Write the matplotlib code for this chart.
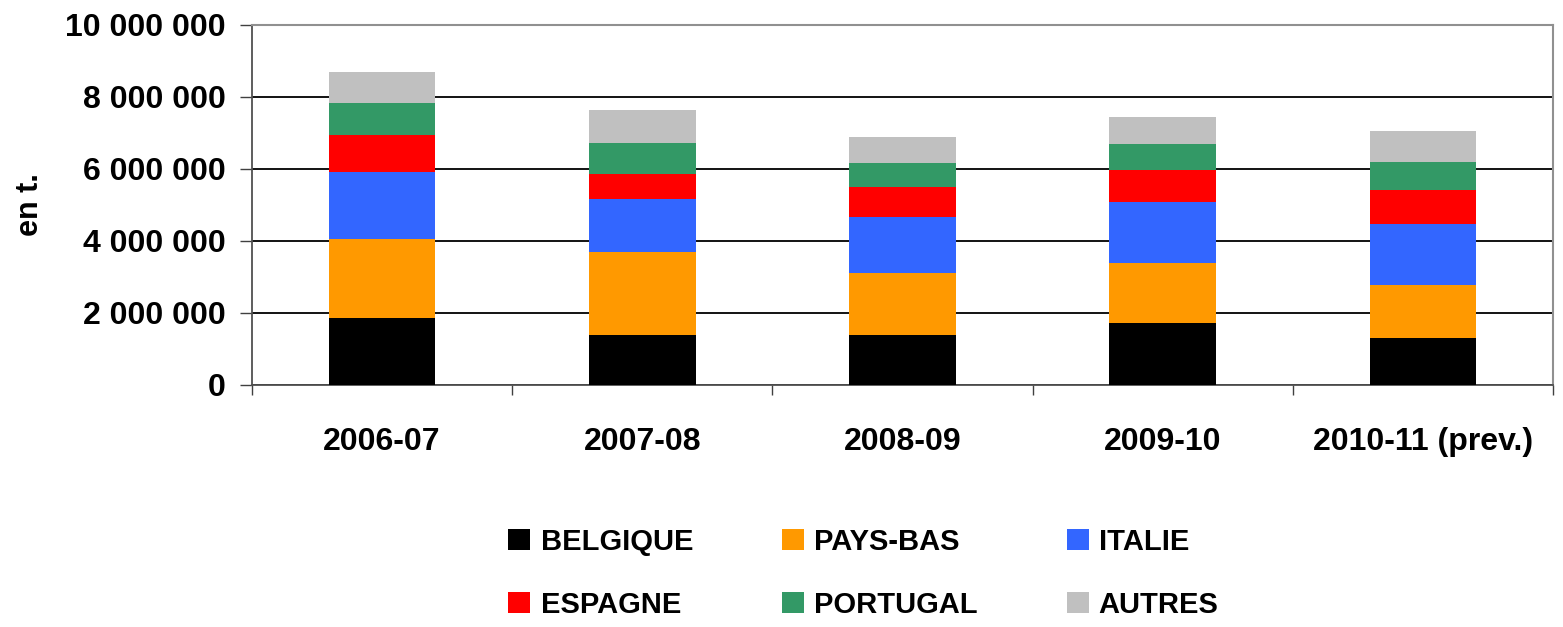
import matplotlib
matplotlib.use("Agg")
import matplotlib.pyplot as plt
from matplotlib.patches import Patch
from matplotlib.ticker import FuncFormatter, MultipleLocator
import numpy as np

plt.rcParams['font.family'] = ['Liberation Sans', 'DejaVu Sans']
plt.rcParams['font.weight'] = 'bold'

campaigns = ["2006-07", "2007-08", "2008-09", "2009-10", "2010-11 (prev.)"]
countries = ["BELGIQUE", "PAYS-BAS", "ITALIE", "ESPAGNE", "PORTUGAL", "AUTRES"]
colors = ["#000000", "#FF9900", "#3366FF", "#FF0000", "#339966", "#C0C0C0"]

# tonnes par pays (lecture du graphique)
belgique = [1860000, 1390000, 1390000, 1720000, 1310000]
pays_bas = [2200000, 2310000, 1720000, 1670000, 1470000]
italie = [1870000, 1470000, 1560000, 1700000, 1700000]
espagne = [1010000, 700000, 830000, 890000, 950000]
portugal = [890000, 850000, 670000, 710000, 760000]
autres = [860000, 920000, 720000, 750000, 870000]

series = [belgique, pays_bas, italie, espagne, portugal, autres]

fig = plt.figure(figsize=(15.63, 6.27), dpi=100)
ax = fig.add_axes([252 / 1563, 1 - 385 / 627, (1553 - 252) / 1563, 360 / 627])

x = np.arange(len(campaigns))
bottom = np.zeros(len(campaigns))
for vals, col, name in zip(series, colors, countries):
    ax.bar(x, vals, width=0.41, bottom=bottom, color=col, label=name, zorder=3)
    bottom += np.array(vals)

ax.set_xlim(-0.5, len(campaigns) - 0.5)
ax.set_ylim(0, 10000000)
ax.yaxis.set_major_locator(MultipleLocator(2000000))
ax.yaxis.set_major_formatter(FuncFormatter(lambda v, p: f"{int(v):,}".replace(",", " ")))
ax.grid(axis='y', color='black', linewidth=1.3, zorder=0)

ax.set_xticks(x)
ax.set_xticklabels(campaigns)
ax.set_xticks(np.arange(-0.5, len(campaigns)), minor=True)
ax.tick_params(axis='x', which='major', length=0, pad=30, labelsize=23)
ax.tick_params(axis='x', which='minor', length=7, width=1, color='#404040', direction='out')
ax.tick_params(axis='y', length=8.6, width=1, color='#404040', labelsize=23, pad=10.5)

for s in ['top', 'right']:
    ax.spines[s].set_color('#909090')
    ax.spines[s].set_linewidth(1.5)
for s in ['left', 'bottom']:
    ax.spines[s].set_color('#505050')
    ax.spines[s].set_linewidth(1.3)

ax.set_ylabel("en t.", fontsize=22, fontweight='bold', labelpad=14)

# legende : deux lignes de trois
order = [0, 3, 1, 4, 2, 5]
handles = [Patch(facecolor=colors[i], label=countries[i]) for i in order]
fig.legend(handles=handles, ncol=3, loc='center', bbox_to_anchor=(0.5525, 0.086),
           frameon=False, fontsize=21, handlelength=0.75, handleheight=0.75,
           handletextpad=0.35, columnspacing=3.05, labelspacing=1.2)

fig.savefig("out.png", dpi=100)
